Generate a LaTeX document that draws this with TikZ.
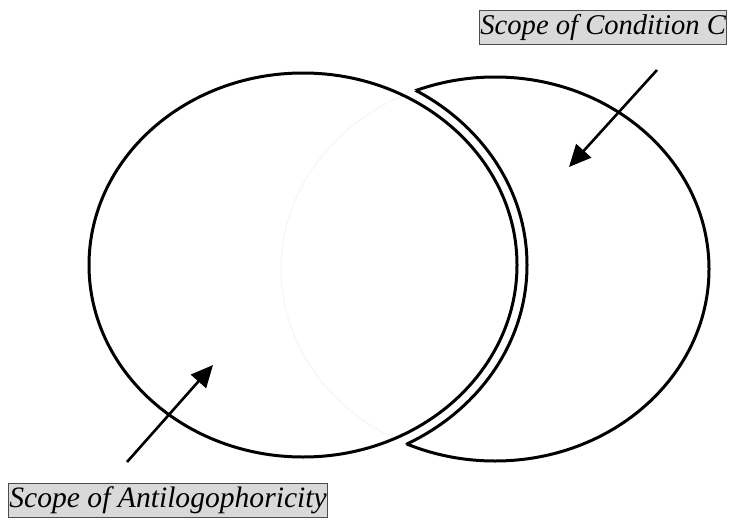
\documentclass[tikz,border=0pt]{standalone}
\usepackage{fontspec}
\setmainfont{Liberation Serif}
\usetikzlibrary{arrows.meta}

\begin{document}
\begin{tikzpicture}[
    x=1pt,y=-1pt,
    ring/.style={draw=black,line width=3pt},
    faint/.style={draw=gray!8,line width=1pt},
    tag/.style={draw=gray!60!black,fill=gray!30,line width=0.8pt,
                inner xsep=1pt,inner ysep=0pt,minimum height=34pt,
                font=\itshape\fontsize{29.6}{32}\selectfont},
    pointer/.style={-{Triangle[length=22pt,width=20pt]},line width=2.6pt},
  ]
    \useasboundingbox (0,0) rectangle (735,519);

    % Scope of Condition C (crescent)
    \draw[ring] (495,269) ellipse [x radius=214pt, y radius=192pt];
    \fill[white] (303,265) ellipse [x radius=224pt, y radius=202pt];
    \begin{scope}
      \clip (495,269) ellipse [x radius=214pt, y radius=192pt];
      \draw[ring] (303,265) ellipse [x radius=224pt, y radius=202pt];
    \end{scope}

    % Scope of Antilogophoricity
    \fill[white] (303,265) ellipse [x radius=214pt, y radius=192pt];
    \begin{scope}
      \clip (303,265) ellipse [x radius=214pt, y radius=192pt];
      \draw[faint] (495,269) ellipse [x radius=214pt, y radius=192pt];
    \end{scope}
    \draw[ring] (303,265) ellipse [x radius=214pt, y radius=192pt];

    % Labels
    \node[tag,anchor=west,font=\itshape\fontsize{28.6}{32}\selectfont]
      (condC) at (479,27) {Scope of Condition C};
    \node[tag,anchor=west] (antilog) at (8,500) {Scope of Antilogophoricity};

    % Arrows
    \coordinate (condCtail) at (657,70);
    \coordinate (condChead) at (569,167);
    \coordinate (antilogtail) at (127,462);
    \coordinate (antiloghead) at (213,365);
    \draw[pointer] (condCtail) -- (condChead);
    \draw[pointer] (antilogtail) -- (antiloghead);

\end{tikzpicture}
\end{document}
